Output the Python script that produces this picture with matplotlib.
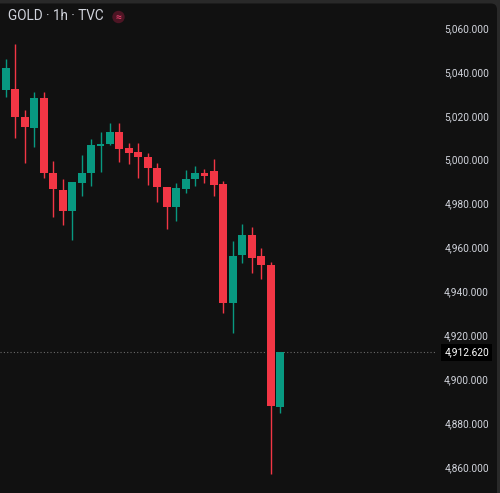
import matplotlib.pyplot as plt
import matplotlib.transforms as mtransforms
from matplotlib.patches import Circle, FancyBboxPatch
import numpy as np

# hourly GOLD candles
opens = [5032.2, 5032.5, 5020.0, 5014.8, 5028.4, 4994.5, 4986.7, 4977.2, 4989.7, 4994.5,
         5006.7, 5007.6, 5013.2, 5005.7, 5004.1, 5001.8, 4996.5, 4987.9, 4979.0, 4987.1,
         4991.5, 4994.5, 4995.3, 4989.2, 4935.0, 4957.0, 4966.2, 4956.6, 4952.5, 4887.9]
highs = [5046.3, 5053.2, 5023.1, 5031.4, 5031.4, 4999.9, 4991.7, 4990.4, 5002.6, 5009.7,
         5013.2, 5017.0, 5017.0, 5007.9, 5008.2, 5003.4, 4999.1, 4987.9, 4990.0, 4995.8,
         4997.6, 4996.1, 5000.6, 4990.9, 4963.4, 4971.2, 4969.7, 4960.1, 4954.0, 4912.62]
lows = [5029.0, 5010.3, 4999.0, 5006.4, 4992.0, 4974.5, 4970.7, 4963.9, 4984.1, 4988.5,
        4995.0, 5007.0, 4999.5, 4998.5, 4992.0, 4988.9, 4981.3, 4968.7, 4972.7, 4985.1,
        4988.5, 4990.0, 4983.9, 4930.8, 4921.6, 4953.5, 4949.0, 4946.0, 4857.3, 4885.2]
closes = [5042.2, 5020.0, 5015.2, 5028.4, 4994.3, 4987.0, 4977.2, 4990.4, 4994.3, 5007.2,
          5007.6, 5012.9, 5005.2, 5003.4, 5001.5, 4996.5, 4987.9, 4979.0, 4987.4, 4991.5,
          4994.5, 4993.0, 4988.9, 4935.0, 4956.7, 4966.2, 4955.8, 4952.5, 4888.2, 4912.62]

price_ticks = [5060, 5040, 5020, 5000, 4980, 4960, 4940, 4920, 4900, 4880, 4860]
last_price = 4912.62
title = "GOLD · 1h · TVC"

up_color = '#089981'
down_color = '#f23645'
bg = '#111111'
text_color = '#d1d4dc'

plt.rcParams['font.family'] = ['Roboto', 'DejaVu Sans']

fig = plt.figure(figsize=(5, 4.93), dpi=100, facecolor='#292929')

# panel background with rounded top-right corner
panel = FancyBboxPatch((-20, -20), 517, 510 - 0.5, boxstyle='round,pad=0,rounding_size=6',
                       transform=None, facecolor=bg, edgecolor='none', zorder=-10)
fig.patches.append(panel)

ax = fig.add_axes([0, 0, 1, 1], zorder=1)
ax.set_facecolor('none')
ax.axis('off')

x = np.arange(len(opens))
o = np.array(opens)
c = np.array(closes)
colors = [up_color if cc >= oo else down_color for oo, cc in zip(o, c)]

ax.vlines(x, lows, highs, colors=colors, linewidth=1.0, zorder=2)
body_bottom = np.minimum(o, c)
body_height = np.maximum(np.abs(c - o), 0.45)
ax.bar(x, body_height, bottom=body_bottom, width=0.84, color=colors, linewidth=0, zorder=3)

ax.set_xlim(-0.635, 52.27)
ax.set_ylim(4848.6, 5073.2)

# last price line
ax.axhline(last_price, xmin=0, xmax=0.87, color='#6a6a6a', linewidth=0.8,
           linestyle=(0, (1, 2)), zorder=1)

trans = mtransforms.blended_transform_factory(ax.transAxes, ax.transData)
for p in price_ticks:
    ax.text(489 / 500, p, f"{p:,.3f}", transform=trans, ha='right', va='center',
            fontsize=7.3, color=text_color, zorder=5)

ax.text(489 / 500, last_price, f"{last_price:,.3f}", transform=trans, ha='right', va='center',
        fontsize=7.3, color='#ffffff', zorder=6,
        bbox=dict(boxstyle='square,pad=0.3', facecolor='#000000', edgecolor='none'))

# title and icon
fig.text(8 / 500, 1 - 16.5 / 493, title, ha='left', va='center', fontsize=9.8, color=text_color,
         zorder=5)
fig.patches.append(Circle((1.185, (493 - 17) / 100), 0.062, transform=fig.dpi_scale_trans,
                          facecolor='#4d1524', edgecolor='none', zorder=4))
fig.text(118.5 / 500, 1 - 17 / 493, "≈", ha='center', va='center', fontsize=7.5,
         color='#e0406a', fontweight='bold', zorder=5)

fig.savefig('out.png', dpi=100, facecolor=fig.get_facecolor())
